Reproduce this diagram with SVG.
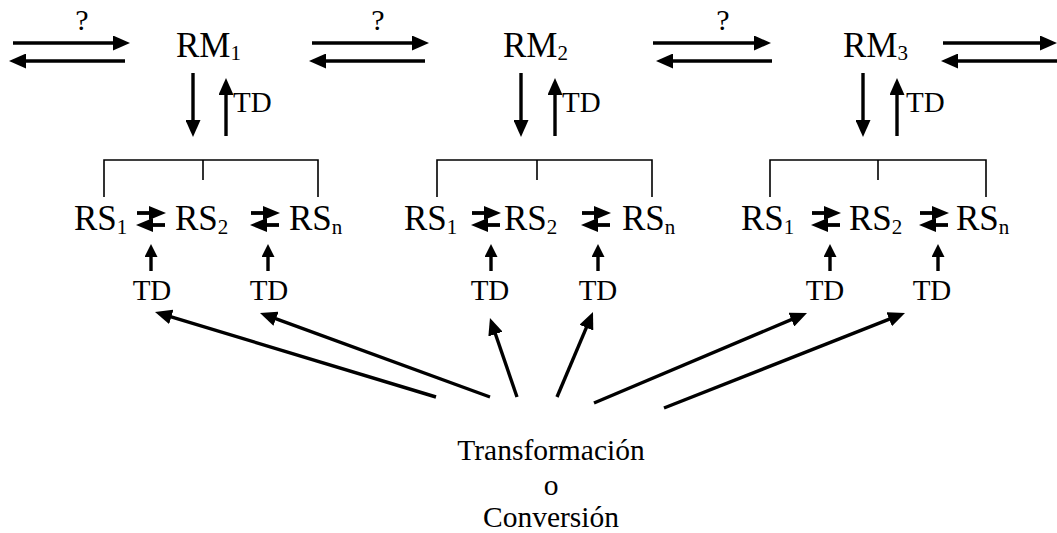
<svg xmlns="http://www.w3.org/2000/svg" xmlns:xlink="http://www.w3.org/1999/xlink" width="1057" height="533" viewBox="0 0 1057 533">
<style>
text{font-family:"Liberation Serif","Times New Roman",serif;fill:#000}
.lbl{font-size:35px}
.sub{font-size:21px}
.td{font-size:29px}
.q{font-size:30px}
.cap{font-size:29.5px;text-anchor:middle}
.ar{stroke:#000;stroke-width:3.4;fill:none;marker-end:url(#ah)}
.sa{stroke:#000;stroke-width:3.4;fill:none;marker-end:url(#sh)}
.br{stroke:#000;stroke-width:1.6;fill:none}
</style>
<defs>
<marker id="ah" markerUnits="userSpaceOnUse" markerWidth="17" markerHeight="15" refX="7" refY="7.5" orient="auto">
<path d="M0,0 L17,7.5 L0,15 Z" fill="#000"/>
</marker>
<marker id="sh" markerUnits="userSpaceOnUse" markerWidth="13" markerHeight="13" refX="4" refY="6.5" orient="auto">
<path d="M0,0 L13,6.5 L0,13 Z" fill="#000"/>
</marker>
<g id="sw">
<path d="M-14,-6 H2" stroke="#000" stroke-width="3.8"/>
<path d="M-2,-13 L15,-6 L-2,1 Z" fill="#000"/>
<path d="M-2,6 H14" stroke="#000" stroke-width="3.8"/>
<path d="M2,-1 L-15,6 L2,13 Z" fill="#000"/>
</g>
</defs>

<g id="connectors">
<line class="ar" x1="13" y1="43" x2="120" y2="43"/>
<line class="ar" x1="125" y1="61" x2="19" y2="61"/>
<line class="ar" x1="312" y1="43" x2="419" y2="43"/>
<line class="ar" x1="425" y1="61" x2="319" y2="61"/>
<line class="ar" x1="653" y1="43" x2="761" y2="43"/>
<line class="ar" x1="772" y1="61" x2="666" y2="61"/>
<line class="ar" x1="943" y1="43" x2="1047" y2="43"/>
<line class="ar" x1="1057" y1="61" x2="951" y2="61"/>

<line class="ar" x1="193" y1="73" x2="193" y2="127"/>
<line class="ar" x1="226" y1="136" x2="226" y2="88"/>
<line class="ar" x1="521" y1="73" x2="521" y2="127"/>
<line class="ar" x1="555" y1="136" x2="555" y2="88"/>
<line class="ar" x1="863" y1="73" x2="863" y2="127"/>
<line class="ar" x1="897" y1="136" x2="897" y2="88"/>

<path class="br" d="M104,197 V160 H318 V197 M203,160 V180"/>
<path class="br" d="M437,197 V160 H652 V197 M537,160 V180"/>
<path class="br" d="M770,197 V160 H986 V197 M878,160 V180"/>

<line class="sa" x1="151" y1="271" x2="151" y2="253"/>
<line class="sa" x1="268" y1="271" x2="268" y2="253"/>
<line class="sa" x1="491" y1="271" x2="491" y2="253"/>
<line class="sa" x1="598" y1="271" x2="598" y2="253"/>
<line class="sa" x1="830" y1="271" x2="830" y2="253"/>
<line class="sa" x1="938" y1="271" x2="938" y2="253"/>

<line class="ar" x1="436" y1="397" x2="164.6" y2="314.9"/>
<line class="ar" x1="490" y1="397" x2="269.4" y2="316.4"/>
<line class="ar" x1="517" y1="397" x2="493.2" y2="327.5"/>
<line class="ar" x1="557" y1="397" x2="589.1" y2="321.2"/>
<line class="ar" x1="594" y1="403" x2="797.8" y2="316.9"/>
<line class="ar" x1="664" y1="408" x2="895.7" y2="316.7"/>
</g>

<g id="q-labels">
<text class="q" x="82" y="30" text-anchor="middle">?</text>
<text class="q" x="378" y="30" text-anchor="middle">?</text>
<text class="q" x="723" y="30" text-anchor="middle">?</text>
</g>

<g id="RM1"><text class="lbl" x="176" y="57">RM<tspan class="sub" dy="3">1</tspan></text><text class="td" x="233" y="112">TD</text></g>
<g id="RM2"><text class="lbl" x="503" y="57">RM<tspan class="sub" dy="3">2</tspan></text><text class="td" x="562" y="112">TD</text></g>
<g id="RM3"><text class="lbl" x="843" y="57">RM<tspan class="sub" dy="3">3</tspan></text><text class="td" x="906" y="112">TD</text></g>

<g id="group1">
<text class="lbl" x="74" y="230">RS<tspan class="sub" dy="4">1</tspan></text>
<use xlink:href="#sw" x="151" y="219"/>
<text class="lbl" x="175" y="230">RS<tspan class="sub" dy="4">2</tspan></text>
<use xlink:href="#sw" x="265" y="219"/>
<text class="lbl" x="289" y="230">RS<tspan class="sub" dy="4">n</tspan></text>
<text class="td" x="152" y="300" text-anchor="middle">TD</text>
<text class="td" x="269" y="300" text-anchor="middle">TD</text>
</g>

<g id="group2">
<text class="lbl" x="404" y="230">RS<tspan class="sub" dy="4">1</tspan></text>
<use xlink:href="#sw" x="486" y="219"/>
<text class="lbl" x="504" y="230">RS<tspan class="sub" dy="4">2</tspan></text>
<use xlink:href="#sw" x="596" y="219"/>
<text class="lbl" x="622" y="230">RS<tspan class="sub" dy="4">n</tspan></text>
<text class="td" x="490" y="300" text-anchor="middle">TD</text>
<text class="td" x="598" y="300" text-anchor="middle">TD</text>
</g>

<g id="group3">
<text class="lbl" x="741" y="230">RS<tspan class="sub" dy="4">1</tspan></text>
<use xlink:href="#sw" x="826" y="219"/>
<text class="lbl" x="849" y="230">RS<tspan class="sub" dy="4">2</tspan></text>
<use xlink:href="#sw" x="934" y="219"/>
<text class="lbl" x="956" y="230">RS<tspan class="sub" dy="4">n</tspan></text>
<text class="td" x="825" y="300" text-anchor="middle">TD</text>
<text class="td" x="932" y="300" text-anchor="middle">TD</text>
</g>

<g id="source">
<text class="cap" x="551" y="460">Transformación</text>
<text class="cap" x="551" y="495">o</text>
<text class="cap" x="551" y="527">Conversión</text>
</g>
</svg>
